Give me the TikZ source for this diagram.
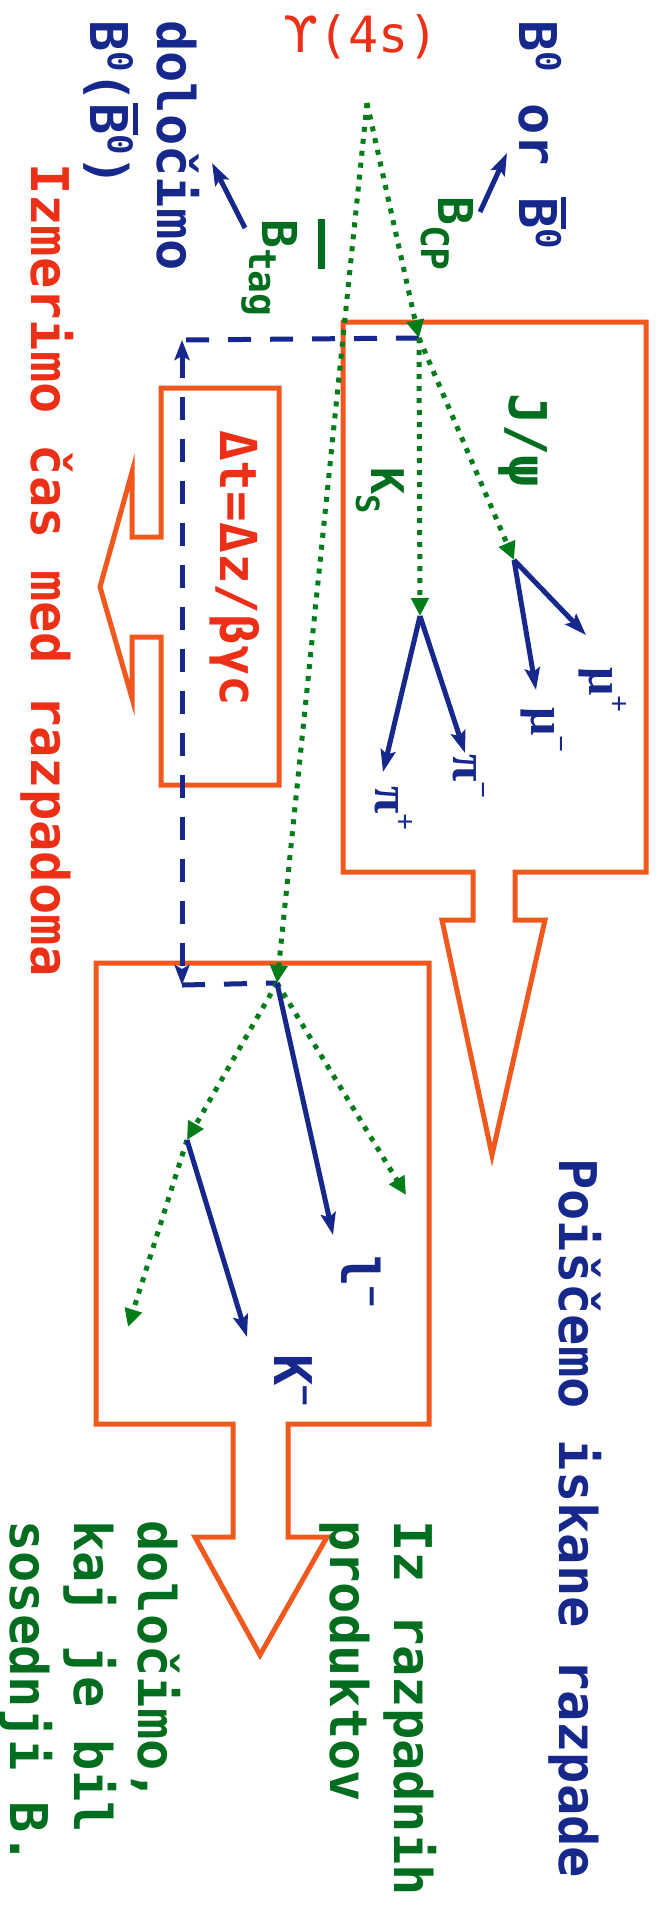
\documentclass[tikz,border=0pt]{standalone}
\usepackage{fontspec}
\usetikzlibrary{arrows.meta}
\newfontfamily\mono{DejaVu Sans Mono}
\newfontfamily\dvs{DejaVu Sans}
\newfontfamily\serf{Liberation Serif}
\definecolor{boxor}{RGB}{240,88,30}
\definecolor{txred}{RGB}{236,48,24}
\definecolor{nblue}{RGB}{22,40,140}
\definecolor{dgreen}{RGB}{0,110,30}
\definecolor{lgreen}{RGB}{0,125,25}
\newcommand\myup[3][17pt]{\raisebox{#1}{\fontsize{#2}{#2}\selectfont #3}}
\newcommand\mydn[3]{\raisebox{-#1}{\fontsize{#2}{#2}\selectfont #3}}
\newcommand\olB{\hbox{\vbox{\hrule height 5pt\kern 4pt\hbox{B}}}}
\begin{document}
\begin{tikzpicture}[x=1pt,y=-1pt,
  lbl/.style={inner sep=0pt, rotate=-90, anchor=base west, font=\mono\bfseries\fontsize{52}{64}\selectfont},
  grk/.style={inner sep=0pt, rotate=-90, anchor=base west, font=\serf\bfseries\fontsize{50}{50}\selectfont, text=nblue},
  obox/.style={draw=boxor, line width=5pt, line join=miter, miter limit=20},
  dotarr/.style={draw=lgreen, line width=5pt, dash pattern=on 5pt off 7pt, -{Triangle[length=18pt,width=17pt]}},
  barr/.style={draw=nblue, line width=5pt, -{Stealth[length=22pt,width=15pt,inset=4pt]}},
  dsh/.style={draw=nblue, line width=5pt, dash pattern=on 23pt off 19pt}]
\useasboundingbox[fill=white] (0,0) rectangle (657,1924);

% boxes
\draw[obox] (343,322) -- (646,322) -- (646,872) -- (515,872) -- (515,920) -- (545,920) -- (492,1155) -- (442,920) -- (473,920) -- (473,872) -- (343,872) -- cycle;
\draw[obox] (96,963) -- (429,963) -- (429,1424) -- (288,1424) -- (288,1537) -- (327,1537) -- (260,1655) -- (195,1537) -- (233,1537) -- (233,1424) -- (96,1424) -- cycle;
\draw[obox] (279,388) -- (161,388) -- (161,537) -- (132,537) -- (132,472) -- (100,587) -- (132,698) -- (132,637) -- (161,637) -- (161,785) -- (279,785) -- cycle;

% texts
\node[inner sep=0pt, anchor=base west, text=txred, font=\mono\fontsize{50}{60}\selectfont] (ups) at (283,53) {{\dvs ϒ}(4s)};
\node[lbl, text=nblue] (boror) at (519,20) {B\myup{34}{0} or \olB\myup{34}{0}};
\node[lbl, text=nblue] (dolo) at (157,20) {\begin{tabular}[t]{@{}l@{}}določimo\\B\myup{34}{0}(\olB\myup{34}{0})\end{tabular}};
\node[lbl, text=txred] (izm) at (31,163) {Izmerimo čas med razpadoma};
\node[lbl, text=dgreen] (izr) at (394,1520) {\begin{tabular}[t]{@{}l@{}}Iz razpadnih\\produktov\end{tabular}};
\node[lbl, text=dgreen] (dol2) at (138,1520) {\begin{tabular}[t]{@{}l@{}}določimo,\\kaj je bil\\sosednji B.\end{tabular}};
\node[lbl, text=nblue] (poi) at (559,1158) {Poiščemo iskane razpade};
\node[lbl, text=txred, font=\mono\bfseries\fontsize{51}{60}\selectfont] (dt) at (220,430) {Δt=Δz/βγc};
\node[lbl, text=dgreen] (jpsi) at (509,393) {J/ψ};
\node[lbl, text=dgreen, font=\mono\bfseries\fontsize{45}{50}\selectfont] (ks) at (371,467) {K\mydn{15pt}{32}{S}};
\node[lbl, text=dgreen, font=\mono\bfseries\fontsize{48}{50}\selectfont] (bcp) at (438,196) {B\mydn{17pt}{38}{CP}};
\node[lbl, text=dgreen, font=\mono\bfseries\fontsize{48}{50}\selectfont] (btag) at (262,219) {\rlap{\raisebox{56pt}{\rule{50pt}{7pt}}}B\mydn{13pt}{38}{tag}};
\node[lbl, text=nblue] (lm) at (341,1255) {l\myup[20pt]{34}{−}};
\node[lbl, text=nblue] (km) at (274,1354) {K\myup[20pt]{34}{−}};
\node[grk] (mup) at (589,667) {μ\myup[20pt]{30}{+}};
\node[grk] (mum) at (531,707) {μ\myup[20pt]{30}{−}};
\node[grk] (pim) at (453,754) {π\myup[20pt]{30}{−}};
\node[grk] (pip) at (375,786) {π\myup[20pt]{30}{+}};

% vertices and ends
\coordinate (o) at (367,103);
\coordinate (vcp) at (419,338);
\coordinate (vjp) at (514,560);
\coordinate (vks) at (420,616);
\coordinate (vtag) at (277,983);
\coordinate (vk) at (187,1140);
\coordinate (emup) at (586,635);
\coordinate (emum) at (536,690);
\coordinate (epim) at (465,753);
\coordinate (epip) at (383,772);
\coordinate (elm) at (333,1235);
\coordinate (egr) at (406,1195);
\coordinate (egl) at (128,1327);
\coordinate (ekm) at (247,1337);
\coordinate (dtop) at (182,340);
\coordinate (dbot) at (182,985);
\coordinate (a1s) at (480,212);
\coordinate (a1e) at (507,153);
\coordinate (a2s) at (245,228);
\coordinate (a2e) at (212,163);

% dashed
\draw[dsh] (vcp) -- (dtop);
\draw[dsh, {Stealth[length=20pt,width=15pt,inset=4pt]}-{Stealth[length=20pt,width=15pt,inset=4pt]}] (dtop) -- (dbot);
\draw[dsh] (dbot) -- (vtag);

% green dotted
\draw[dotarr] (o) -- (vcp);
\draw[dotarr] (o) -- (vtag);
\draw[dotarr] (vcp) -- (vjp);
\draw[dotarr] (vcp) -- (vks);
\draw[dotarr] (vtag) -- (egr);
\draw[dotarr] (vtag) -- (vk);
\draw[dotarr] (vk) -- (egl);

% blue solid
\draw[barr] (vjp) -- (emup);
\draw[barr] (vjp) -- (emum);
\draw[barr] (vks) -- (epim);
\draw[barr] (vks) -- (epip);
\draw[barr] (vtag) -- (elm);
\draw[barr] (vk) -- (ekm);
\draw[barr] (a1s) -- (a1e);
\draw[barr] (a2s) -- (a2e);
\end{tikzpicture}
\end{document}
